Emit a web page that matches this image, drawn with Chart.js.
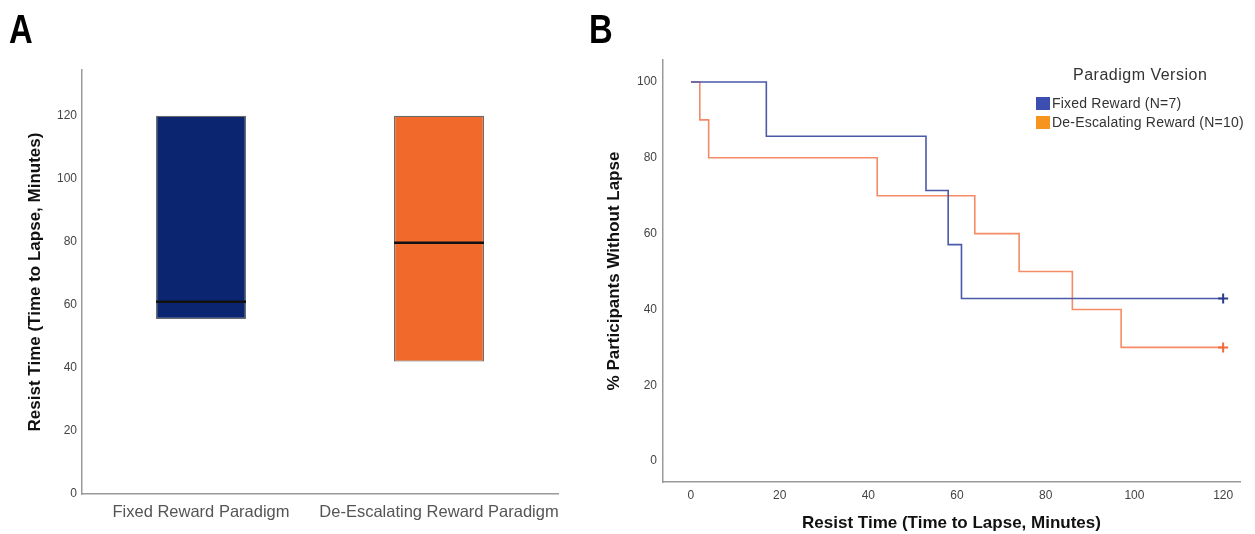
<!DOCTYPE html>
<html>
<head>
<meta charset="utf-8">
<script src="https://cdn.jsdelivr.net/npm/chart.js@4"></script>
<style>
  body { margin: 0; background: #fff; font-family: "Liberation Sans", Arial, sans-serif; }
  #wrap { position: relative; width: 1255px; height: 534px; }
  .panel { position: absolute; top: 0; height: 534px; }
  .letter { position: absolute; top: 7px; font: bold 40px "Liberation Sans", sans-serif; color: #000; transform: scaleX(0.82); transform-origin: left top; }
  #legend { position: absolute; left: 1036px; top: 65px; color: #333; font-size: 14px; letter-spacing: 0.2px; }
  #legend .ttl { font-size: 16px; letter-spacing: 0.5px; height: 19px; line-height: 19px; margin-left: 37px; margin-bottom: 10px; }
  #legend .row { height: 19px; line-height: 19px; white-space: nowrap; }
  #legend .sw { display: inline-block; width: 14px; height: 13px; vertical-align: -2px; margin-right: 2px; }
</style>
</head>
<body>
<div id="wrap">
  <div class="panel" style="left:0;width:600px"><canvas id="boxChart"></canvas></div>
  <div class="panel" style="left:600px;width:655px"><canvas id="kmChart"></canvas></div>
  <div class="letter" style="left:9px">A</div>
  <div class="letter" style="left:589px">B</div>
  <div id="legend">
    <div class="ttl">Paradigm Version</div>
    <div class="row"><span class="sw" style="background:#3c4fb0"></span>Fixed Reward (N=7)</div>
    <div class="row"><span class="sw" style="background:#f7941d"></span>De-Escalating Reward (N=10)</div>
  </div>
</div>
<script>
// panel A: resist time boxes
const groups = ["Fixed Reward Paradigm", "De-Escalating Reward Paradigm"];
const boxLow = [55.5, 42];
const boxHigh = [120, 120];
const medians = [61, 79.7];
const yTicksA = [0, 20, 40, 60, 80, 100, 120];

// panel B: survival curves (minutes, % without lapse)
const fixedTimes = [0, 17, 53, 58, 61, 120];
const fixedPct = [100, 85.7, 71.4, 57.1, 42.9, 42.9];
const deescTimes = [0, 2, 4, 42, 64, 74, 86, 97, 120];
const deescPct = [100, 90, 80, 70, 60, 50, 40, 30, 30];
const xTicksB = [0, 20, 40, 60, 80, 100, 120];
const yTicksB = [0, 20, 40, 60, 80, 100];

Chart.defaults.font.family = '"Liberation Sans", Arial, sans-serif';
Chart.defaults.animation = false;

const keepTicks = list => scale => {
  scale.ticks = list.map(v => ({ value: v }));
};

const axisLine = { display: true, color: "#9a9a9a", width: 1.5 };
const noGrid = { display: false, drawTicks: false };
const titleFont = { size: 17, weight: "bold" };

new Chart(document.getElementById("boxChart"), {
  type: "bar",
  data: {
    labels: groups,
    datasets: [
      {
        label: "median",
        data: medians.map(m => [m - 0.4, m + 0.4]),
        backgroundColor: "#111",
        borderWidth: 0,
        grouped: false,
        order: 0,
        barPercentage: 0.378,
        categoryPercentage: 1
      },
      {
        label: "range",
        data: boxLow.map((lo, i) => [lo, boxHigh[i]]),
        backgroundColor: ["#0b2570", "#f2692c"],
        borderColor: "#6a6a6a",
        borderWidth: 1.2,
        borderSkipped: false,
        grouped: false,
        order: 1,
        barPercentage: 0.378,
        categoryPercentage: 1
      }
    ]
  },
  options: {
    responsive: true,
    maintainAspectRatio: false,
    layout: { padding: { left: 21, top: 70, right: 42, bottom: 0 } },
    plugins: { legend: { display: false }, tooltip: { enabled: false } },
    scales: {
      x: {
        grid: noGrid,
        border: axisLine,
        ticks: { color: "#555", font: { size: 16.5 }, padding: 9, maxRotation: 0, minRotation: 0, autoSkip: false },
        afterFit: s => { s.height = 40; s.paddingLeft = 0; s.paddingRight = 0; }
      },
      y: {
        min: 0,
        max: 134.5,
        grid: noGrid,
        border: axisLine,
        afterBuildTicks: keepTicks(yTicksA),
        ticks: { color: "#444", font: { size: 12 }, padding: 5 },
        title: { display: true, text: "Resist Time (Time to Lapse, Minutes)", color: "#111", font: titleFont, padding: { top: 4, bottom: 4 } },
        afterFit: s => { s.width = 61; }
      }
    }
  }
});

const lastOnly = (n, r) => Array.from({ length: n }, (_, i) => (i === n - 1 ? r : 0));

new Chart(document.getElementById("kmChart"), {
  type: "line",
  data: {
    datasets: [
      {
        label: "Fixed Reward (N=7)",
        data: fixedTimes.map((t, i) => ({ x: t, y: fixedPct[i] })),
        borderColor: "#4a5aa8",
        borderWidth: 1.6,
        stepped: true,
        pointStyle: "cross",
        pointRadius: lastOnly(fixedTimes.length, 5),
        pointBorderColor: "#2b3c8a",
        pointBorderWidth: 2
      },
      {
        label: "De-Escalating Reward (N=10)",
        data: deescTimes.map((t, i) => ({ x: t, y: deescPct[i] })),
        borderColor: "#f58b66",
        borderWidth: 1.6,
        stepped: true,
        pointStyle: "cross",
        pointRadius: lastOnly(deescTimes.length, 5),
        pointBorderColor: "#f06a3c",
        pointBorderWidth: 2
      }
    ]
  },
  options: {
    responsive: true,
    maintainAspectRatio: false,
    layout: { padding: { left: 0, top: 60, right: 15, bottom: 0 } },
    plugins: { legend: { display: false }, tooltip: { enabled: false } },
    scales: {
      x: {
        type: "linear",
        min: -6.3,
        max: 123.8,
        grid: noGrid,
        border: axisLine,
        afterBuildTicks: keepTicks(xTicksB),
        ticks: { color: "#444", font: { size: 12 }, padding: 6 },
        title: { display: true, text: "Resist Time (Time to Lapse, Minutes)", color: "#111", font: titleFont, padding: { top: 4, bottom: 0 } },
        afterFit: s => { s.height = 52; }
      },
      y: {
        min: -5.5,
        max: 105.8,
        grid: noGrid,
        border: axisLine,
        afterBuildTicks: keepTicks(yTicksB),
        ticks: { color: "#444", font: { size: 12 }, padding: 6 },
        title: { display: true, text: "% Participants Without Lapse", color: "#111", font: titleFont, padding: { top: 4, bottom: 4 } },
        afterFit: s => { s.width = 63; }
      }
    }
  }
});
</script>
</body>
</html>
